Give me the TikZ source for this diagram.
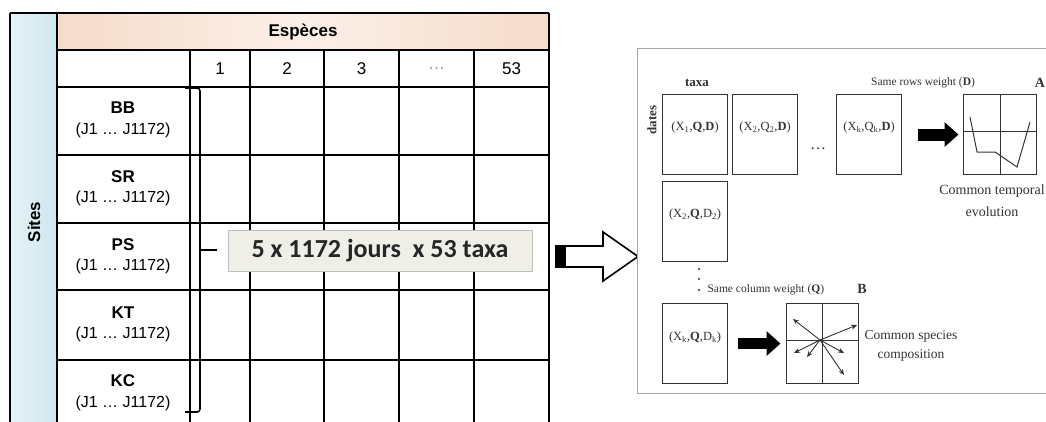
\documentclass[tikz,border=0pt]{standalone}
\usepackage{fontspec}
\setmainfont{Liberation Serif}
\setsansfont{Liberation Sans}
\newfontfamily\boxfont{Carlito}
\usetikzlibrary{arrows.meta,positioning}
\newcommand{\RowTopPx}{87}
\newcommand{\RowStepPx}{68.25}
\definecolor{SitesBlue}{HTML}{CFE8EF}
\definecolor{HeadPeach}{HTML}{F6DCCB}
\definecolor{DimsFill}{HTML}{EFEEE7}
\colorlet{GridColor}{black}
\colorlet{PanelInk}{black!80}

\begin{document}
\begin{tikzpicture}[x=1pt, y=-1pt,
		grid/.style={line width=1.4pt, GridColor},
		sitelab/.style={font=\sffamily\bfseries\fontsize{17}{20}\selectfont},
		daylab/.style={font=\sffamily\fontsize{16}{19}\selectfont},
		colnum/.style={font=\sffamily\fontsize{17}{20}\selectfont},
		mat/.style={draw=PanelInk, line width=1.1pt, minimum width=65pt, minimum height=80pt, inner sep=0pt, anchor=north west},
		matlab/.style={font=\fontsize{12.5}{14}\selectfont, text=PanelInk},
		note/.style={font=\fontsize{11.5}{13}\selectfont, text=PanelInk},
		fatarrow/.style={line width=12pt, -{Triangle[length=14pt,width=24pt]}},
		vec/.style={line width=0.9pt, PanelInk, -{Stealth[length=6pt,width=5pt]}}]
		\useasboundingbox (0,0) rectangle (1046,421);
		\clip (0,0) rectangle (1046,421);
		
		% left table: bands
		\fill[left color=SitesBlue!55, right color=SitesBlue] (10,13) rectangle (57,430);
		\fill[left color=HeadPeach, right color=HeadPeach, middle color=HeadPeach!45] (57,13) rectangle (549,50);
		\node[sitelab] (especes) at (303,32) {Espèces};
		\node[sitelab, rotate=90] (sites) at (34,222) {Sites};
		
		% left table: grid
		\draw[grid] (10,13) -- (549,13);
		\draw[grid] (57,50) -- (549,50);
		\foreach \x in {10,57,549}
			\draw[grid] (\x,13) -- (\x,430);
		\foreach \x in {190,250,324,399,474}
			\draw[grid] (\x,50) -- (\x,430);
		\foreach \y in {87,155,223,290,360}
			\draw[grid] (57,\y) -- (549,\y);
		
		\foreach \lab/\cx [count=\i] in {1/220,2/287,3/361.5,{\textcolor{black!45}{…}}/436.5,53/511.5}
			\node[colnum] (num\i) at (\cx,68.5) {\lab};
		
		\foreach \s [count=\i] in {BB,SR,PS,KT,KC}{
			\pgfmathsetmacro{\yTop}{\RowTopPx + (\i-1)*\RowStepPx}
			\node[sitelab] (site\s) at (123,\yTop+21) {\s};
			\node[daylab] (days\s) at (123,\yTop+43) {(J1 … J1172)};
		}
		
		% brace and size box
		\draw[line width=1.6pt, rounded corners=3pt] (185,88) -- (200,88) -- (200,412) -- (185,412);
		\draw[line width=1.6pt] (200,250) -- (217,250);
		\node[draw=black!25, fill=DimsFill, minimum width=304pt, minimum height=41pt, inner sep=0pt,
			font=\boxfont\bfseries\fontsize{26}{30}\selectfont, text=black!85] (dims) at (380,250.5) {5 x 1172 jours\ \ x 53 taxa};
		
		% hollow arrow
		\draw[line width=1.6pt, fill=white, line join=miter] (556,246) -- (603,246) -- (603,232) -- (638,256.5)
			-- (603,281) -- (603,267) -- (556,267) -- cycle;
		\fill (556,246) rectangle (566,267);
		
		% right panel
		\draw[draw=black!35, line width=0.8pt, fill=white] (637,48) rectangle (1060,393);
		
		\node[mat] (xone) at (662,94) {};
		\node[mat] (xtwo) at (732,94) {};
		\node[mat] (xk) at (836,94) {};
		\node[mat] (xtwoq) at (662,181) {};
		\node[mat] (xkq) at (662,303) {};
		\node[matlab] (xonelab) at ([yshift=7pt]xone.center) {(X\textsubscript{1},\textbf{Q},\textbf{D})};
		\node[matlab] (xtwolab) at ([yshift=7pt]xtwo.center) {(X\textsubscript{2},Q\textsubscript{2},\textbf{D})};
		\node[matlab] (xklab) at ([yshift=7pt]xk.center) {(X\textsubscript{k},Q\textsubscript{k},\textbf{D})};
		\node[matlab] (xtwoqlab) at ([yshift=7pt]xtwoq.center) {(X\textsubscript{2},\textbf{Q},D\textsubscript{2})};
		\node[matlab] (xkqlab) at ([yshift=6pt]xkq.center) {(X\textsubscript{k},\textbf{Q},D\textsubscript{k})};
		
		\node[font=\bfseries\fontsize{13}{15}\selectfont, text=PanelInk] (taxalab) at (697,83) {taxa};
		\node[font=\bfseries\fontsize{13}{15}\selectfont, text=PanelInk, rotate=90] (dateslab) at (652,120) {dates};
		\node[note] (rowsw) at (923,83) {Same rows weight (\textbf{D})};
		\node[font=\bfseries\fontsize{14}{16}\selectfont, text=PanelInk] (labA) at (1040,83) {A};
		\node[font=\fontsize{16}{18}\selectfont, text=PanelInk] (hdots) at (818,149) {…};
		
		% plot A
		\node[mat, minimum width=73pt] (plotA) at (963,94) {};
		\draw[PanelInk, line width=1pt] (plotA.north) -- (plotA.south);
		\draw[PanelInk, line width=1pt] ([yshift=3pt]plotA.west) -- ([yshift=3pt]plotA.east);
		\draw[PanelInk, line width=1pt] (970,117) -- (977,152) -- (995,152) -- (1017,167) -- (1030,122);
		\draw[fatarrow, shorten <=15.5pt, shorten >=4.5pt] (xk.east) -- (plotA.west);
		\node[font=\fontsize{14}{22}\selectfont, text=PanelInk, align=center] (tempo) at (992,201) {Common temporal\\evolution};
		
		% column weight
		\foreach \y in {269,279,290}
			\fill[PanelInk] (699,\y) circle (1.2pt);
		\node[note, anchor=west] (colw) at (704,290) {Same column weight\ (\textbf{Q})};
		\node[font=\bfseries\fontsize{14}{16}\selectfont, text=PanelInk] (labB) at (862,289) {B};
		
		% plot B
		\node[mat, minimum width=72pt] (plotB) at (786,303) {};
		\draw[PanelInk, line width=1pt] (plotB.north) -- (plotB.south);
		\draw[PanelInk, line width=1pt] ([yshift=3pt]plotB.west) -- ([yshift=3pt]plotB.east);
		\coordinate (origB) at (820,340);
		\foreach \tx/\ty in {793/319,857/325,794/353,807/357,844/353,844/375}
			\draw[vec] (origB) -- (\tx,\ty);
		\draw[fatarrow, line width=11pt, shorten <=9.5pt, shorten >=5.5pt] (xkq.east) -- (plotB.west);
		\node[font=\fontsize{13.5}{19}\selectfont, text=PanelInk, align=center] (specomp) at (911,346) {Common species\\composition};
	\end{tikzpicture}
\end{document}
